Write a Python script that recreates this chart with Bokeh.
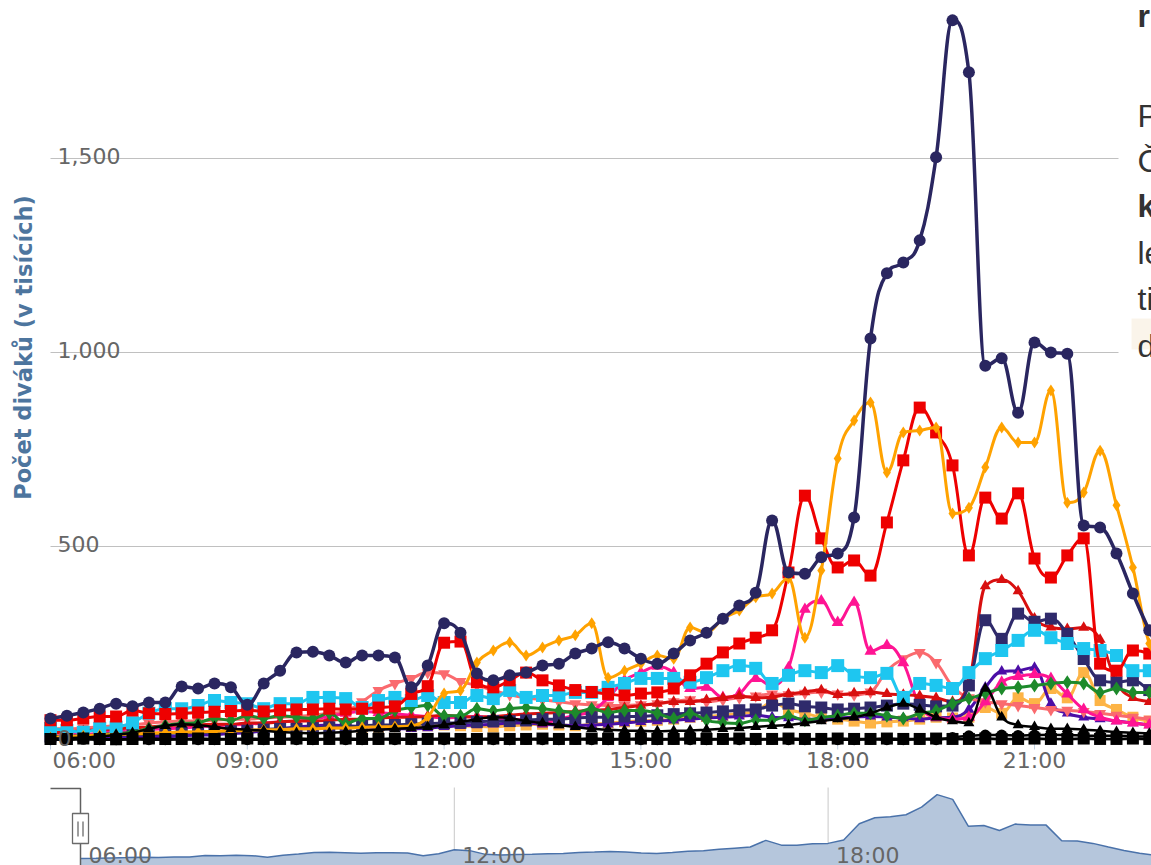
from bokeh.plotting import figure
from bokeh.layouts import column
from bokeh.models import Range1d, Label, BoxAnnotation, ColumnDataSource
from bokeh.core.properties import value
from bokeh.embed import file_html
from bokeh.resources import INLINE

# ---------------- data ----------------
TIMES = ["06:00", "06:15", "06:30", "06:45", "07:00", "07:15", "07:30", "07:45",
         "08:00", "08:15", "08:30", "08:45", "09:00", "09:15", "09:30", "09:45",
         "10:00", "10:15", "10:30", "10:45", "11:00", "11:15", "11:30", "11:45",
         "12:00", "12:15", "12:30", "12:45", "13:00", "13:15", "13:30", "13:45",
         "14:00", "14:15", "14:30", "14:45", "15:00", "15:15", "15:30", "15:45",
         "16:00", "16:15", "16:30", "16:45", "17:00", "17:15", "17:30", "17:45",
         "18:00", "18:15", "18:30", "18:45", "19:00", "19:15", "19:30", "19:45",
         "20:00", "20:15", "20:30", "20:45", "21:00", "21:15", "21:30", "21:45",
         "22:00", "22:15", "22:30", "22:45", "23:00", "23:15"]

NAVY = [57, 64, 72, 82, 95, 88, 98, 98, 139, 134,
        147, 137, 92, 147, 180, 227, 229, 219, 201, 219,
        219, 214, 137, 193, 302, 278, 173, 155, 168, 175,
        193, 198, 224, 237, 253, 237, 211, 198, 224, 258,
        278, 314, 348, 381, 567, 433, 430, 472, 482, 575,
        1036, 1204, 1232, 1289, 1503, 1856, 1722, 966, 985, 845,
        1026, 1000, 997, 554, 549, 482, 379, 284, 206, 150]
ORANGE = [8, 10, 12, 14, 15, 17, 18, 20, 22, 22,
          24, 25, 26, 28, 28, 30, 30, 32, 32, 34,
          35, 36, 38, 60, 121, 129, 201, 232, 253, 219,
          240, 258, 271, 302, 162, 180, 198, 219, 211, 291,
          278, 314, 335, 369, 379, 418, 265, 438, 727, 825,
          871, 691, 794, 799, 807, 585, 600, 704, 807, 768,
          768, 902, 613, 639, 747, 606, 446, 250, 200, 170]
RED = [52, 52, 57, 62, 62, 77, 70, 68, 70, 72,
       74, 76, 78, 75, 78, 80, 80, 82, 80, 82,
       85, 88, 120, 140, 252, 255, 150, 137, 155, 175,
       155, 142, 130, 125, 120, 116, 121, 124, 134, 168,
       198, 227, 250, 265, 284, 433, 631, 521, 446, 464,
       425, 562, 722, 858, 794, 709, 477, 626, 572, 637,
       469, 420, 477, 521, 198, 180, 232, 224, 200, 180]
CYAN = [31, 26, 21, 31, 34, 46, 70, 82, 82, 90,
        103, 98, 95, 82, 95, 95, 111, 111, 108, 85,
        103, 111, 103, 116, 98, 98, 116, 108, 129, 111,
        116, 116, 124, 124, 137, 147, 160, 160, 160, 150,
        162, 180, 193, 186, 147, 168, 180, 175, 193, 168,
        162, 173, 111, 147, 142, 134, 175, 211, 232, 258,
        284, 265, 250, 237, 232, 219, 180, 180, 170, 165]
PINK = [20, 18, 15, 20, 25, 22, 28, 30, 32, 35,
        38, 40, 42, 45, 48, 50, 55, 62, 70, 75,
        72, 68, 65, 62, 58, 60, 62, 58, 55, 52,
        45, 55, 65, 75, 110, 155, 175, 191, 175, 134,
        137, 111, 121, 160, 142, 188, 338, 360, 304, 356,
        230, 245, 200, 90, 60, 55, 60, 100, 150, 165,
        170, 160, 120, 80, 60, 50, 45, 40, 35, 30]
DARKRED = [20, 22, 25, 28, 30, 32, 35, 38, 40, 40,
           42, 42, 45, 45, 48, 50, 50, 52, 55, 55,
           58, 60, 60, 62, 65, 62, 60, 62, 65, 68,
           70, 72, 75, 78, 80, 85, 90, 95, 100, 100,
           105, 110, 115, 110, 112, 120, 125, 130, 118, 122,
           125, 120, 118, 115, 110, 100, 150, 398, 414, 385,
           315, 292, 288, 291, 260, 150, 110, 100, 90, 80]
NAVY_SQ = [10, 10, 12, 12, 14, 15, 16, 18, 20, 20,
           22, 24, 25, 28, 30, 30, 32, 34, 35, 38,
           40, 40, 42, 44, 45, 46, 48, 50, 50, 52,
           55, 55, 58, 60, 60, 62, 62, 65, 68, 70,
           72, 75, 78, 80, 90, 95, 88, 85, 80, 82,
           85, 90, 95, 92, 88, 90, 142, 310, 262, 327,
           306, 314, 275, 210, 155, 150, 155, 130, 110, 100]
SALMON = [30, 30, 32, 35, 38, 40, 45, 48, 50, 50,
          52, 55, 55, 58, 60, 62, 65, 70, 75, 100,
          129, 147, 160, 175, 172, 152, 142, 129, 118, 110,
          105, 100, 95, 92, 90, 90, 92, 95, 100, 105,
          100, 105, 110, 115, 120, 118, 122, 125, 120, 118,
          125, 180, 211, 227, 201, 140, 110, 100, 95, 90,
          85, 80, 78, 75, 70, 65, 60, 55, 50, 45]
GREEN = [8, 10, 12, 15, 18, 21, 31, 39, 44, 46,
         57, 52, 64, 57, 64, 60, 57, 70, 44, 57,
         57, 77, 85, 90, 64, 64, 82, 77, 82, 85,
         82, 77, 72, 82, 72, 77, 77, 70, 57, 70,
         52, 46, 44, 52, 52, 64, 52, 59, 64, 70,
         70, 64, 57, 70, 77, 95, 108, 121, 134, 137,
         142, 147, 150, 147, 124, 134, 124, 124, 120, 115]
INDIGO = [5, 5, 6, 6, 8, 8, 10, 10, 12, 14,
          15, 18, 20, 25, 30, 35, 38, 40, 38, 35,
          32, 30, 30, 32, 35, 38, 40, 42, 45, 45,
          42, 40, 38, 40, 42, 45, 48, 50, 52, 55,
          58, 60, 62, 65, 60, 58, 55, 55, 58, 60,
          62, 60, 58, 55, 58, 60, 80, 137, 178, 180,
          188, 95, 70, 60, 55, 50, 45, 40, 35, 30]
LIGHT_ORANGE = [12, 12, 14, 15, 16, 18, 20, 20, 22, 22,
                24, 25, 26, 28, 28, 30, 30, 32, 32, 34,
                35, 36, 36, 38, 40, 38, 36, 35, 38, 40,
                42, 40, 38, 42, 45, 48, 50, 52, 55, 60,
                62, 65, 70, 75, 98, 80, 70, 60, 55, 50,
                45, 48, 50, 55, 60, 58, 60, 85, 70, 110,
                95, 134, 110, 175, 103, 80, 60, 50, 45, 40]
BLACK_TRI = [5, 6, 8, 10, 15, 20, 30, 38, 42, 40,
             35, 30, 28, 25, 22, 20, 18, 20, 22, 25,
             28, 30, 32, 35, 40, 48, 55, 60, 58, 50,
             45, 40, 35, 30, 28, 26, 25, 24, 25, 26,
             28, 30, 32, 35, 38, 40, 45, 50, 55, 60,
             70, 85, 95, 80, 60, 50, 45, 134, 60, 40,
             35, 30, 30, 28, 25, 22, 20, 18, 15, 12]
BLACK_CIRC = [2, 2, 3, 2, 2, 3, 2, 2, 3, 2,
              2, 3, 2, 2, 3, 2, 2, 3, 2, 2,
              3, 2, 2, 3, 2, 2, 3, 2, 2, 3,
              2, 2, 3, 2, 2, 3, 2, 2, 3, 2,
              2, 3, 2, 2, 3, 2, 2, 3, 2, 2,
              3, 2, 2, 3, 2, 8, 12, 14, 14, 13,
              14, 15, 14, 13, 12, 12, 11, 10, 10, 9]
BLACK_SQ = [4, 4, 5, 4, 3, 4, 5, 4, 4, 5,
            4, 4, 5, 4, 4, 5, 4, 4, 5, 4,
            4, 5, 4, 4, 5, 4, 4, 5, 4, 4,
            5, 4, 4, 5, 4, 4, 5, 4, 4, 5,
            4, 4, 5, 4, 4, 5, 4, 4, 5, 4,
            4, 5, 4, 4, 5, 4, 4, 5, 4, 4,
            5, 4, 4, 5, 4, 4, 5, 4, 4, 5]

Y_TICKS = [0, 500, 1000, 1500]
Y_TICK_LABELS = ["0", "500", "1,000", "1,500"]
X_TICKS = [9, 12, 15, 18, 21]
X_TICK_LABELS = ["09:00", "12:00", "15:00", "18:00", "21:00"]
FIRST_X_TICK = 6
FIRST_X_LABEL = "06:00"
NAV_TICKS = [6, 12, 18]
NAV_TICK_LABELS = ["06:00", "12:00", "18:00"]
Y_TITLE = "Počet diváků (v tisících)"
SIDE_TEXT = [("r", "bold"), ("P", "normal"), ("Č", "normal"), ("k", "bold"),
             ("le", "normal"), ("ti", "normal"), ("d", "normal")]

hours = [int(s[:2]) + int(s[3:]) / 60.0 for s in TIMES]
for arr in (NAVY, ORANGE, RED, CYAN, PINK, DARKRED, NAVY_SQ, SALMON, GREEN, INDIGO,
            LIGHT_ORANGE, BLACK_TRI, BLACK_CIRC, BLACK_SQ):
    assert len(arr) == len(hours), len(arr)

# ---------------- layout helpers (page px -> data units) ----------------
W, H_MAIN, H_NAV = 1151, 785, 80
PX_PER_H = 65.6      # main chart: pixels per hour
X06 = 50.0           # page x of 06:00 in main chart
PX_PER_K = 0.388     # main chart: pixels per thousand viewers
Y0 = 740.0           # page y of the zero line


def mx(px):
    return 6 + (px - X06) / PX_PER_H


def my(py):
    return (Y0 - py) / PX_PER_K


NPX_PER_H = 62.3     # navigator: pixels per hour
NX06 = 80.0          # page x of 06:00 in navigator
NAV_TOP = 785.0
NAV_BASE = 860.0     # page y of navigator zero
NAV_PX_PER_K = 0.0355


def nx(px):
    return 6 + (px - NX06) / NPX_PER_H


def ny(py):
    return (NAV_BASE - py) / NAV_PX_PER_K


def spline_source(xs, ys):
    n = len(xs)
    xs = [float(v) for v in xs]
    ys = [float(v) for v in ys]
    lcx, lcy, rcx, rcy = list(xs), list(ys), list(xs), list(ys)
    s, d = 1.5, 2.5
    for i in range(1, n - 1):
        x, y = xs[i], ys[i]
        lx, ly = xs[i - 1], ys[i - 1]
        nxp, nyp = xs[i + 1], ys[i + 1]
        a = (s * x + lx) / d
        b = (s * y + ly) / d
        c = (s * x + nxp) / d
        e = (s * y + nyp) / d
        corr = ((e - b) * (c - x)) / (c - a) + y - e
        b += corr
        e += corr
        if b > ly and b > y:
            b = max(ly, y)
            e = 2 * y - b
        elif b < ly and b < y:
            b = min(ly, y)
            e = 2 * y - b
        if e > nyp and e > y:
            e = max(nyp, y)
            b = 2 * y - e
        elif e < nyp and e < y:
            e = min(nyp, y)
            b = 2 * y - e
        lcx[i], lcy[i], rcx[i], rcy[i] = a, b, c, e
    return ColumnDataSource(dict(
        x0=xs[:-1], y0=ys[:-1], x1=xs[1:], y1=ys[1:],
        cx0=rcx[:-1], cy0=rcy[:-1], cx1=lcx[1:], cy1=lcy[1:]))


FONT = "DejaVu Sans"
LABEL_COLOR = "#666666"
TICK_FONT_SIZE = "22px"

# ---------------- main chart ----------------
p = figure(width=W, height=H_MAIN, output_backend="svg", toolbar_location=None,
           x_range=Range1d(mx(0), mx(W)), y_range=Range1d(my(H_MAIN), my(0)),
           x_axis_location=None, y_axis_location=None,
           min_border_left=0, min_border_right=0, min_border_top=0, min_border_bottom=0)
p.outline_line_color = None
p.background_fill_color = "white"
p.border_fill_color = "white"
p.grid.visible = False

# faint highlight behind the last article line on the right
p.add_layout(BoxAnnotation(left=mx(1131), bottom=my(349), top=my(318), fill_color="#faf4ea",
                           fill_alpha=1.0, line_color=None, level="underlay"))

# horizontal grid lines (the upper two are hidden by the article panel at the right)
grid_end = [mx(W), mx(W), mx(1118), mx(1118)]
p.segment(x0=[mx(50)] * len(Y_TICKS), y0=Y_TICKS, x1=grid_end, y1=Y_TICKS,
          line_color="#C0C0C0", line_width=1)

# x-axis tick marks
tick_x = [FIRST_X_TICK] + X_TICKS
p.segment(x0=tick_x, y0=[my(741)] * len(tick_x), x1=tick_x, y1=[my(749)] * len(tick_x),
          line_color="#C0D0E0", line_width=1)

# series: (values, color, marker, size, line width) in drawing order
SERIES = [
    (LIGHT_ORANGE, "#fdb446", "square", 11, 3),
    (INDIGO, "#4b0ea6", "triangle", 11, 3),
    (SALMON, "#fa6a6e", "inverted_triangle", 12, 3),
    (PINK, "#ff1493", "triangle", 12, 3),
    (DARKRED, "#d80f0f", "triangle", 11, 3),
    (NAVY_SQ, "#2f2a6b", "square", 12, 3),
    (GREEN, "#1d8a2b", "diamond", 14, 3),
    (CYAN, "#1ec6f0", "square", 13, 3),
    (RED, "#ee0000", "square", 12, 3),
    (ORANGE, "#ffa200", "diamond", 12, 3),
    (BLACK_TRI, "#000000", "triangle", 11, 2.5),
    (BLACK_CIRC, "#000000", "circle", 11, 2.5),
    (BLACK_SQ, "#000000", "square", 12, 2.5),
    (NAVY, "#2a2660", "circle", 12, 3.5),
]
for vals, color, marker, size, lw in SERIES:
    p.bezier(x0="x0", y0="y0", x1="x1", y1="y1", cx0="cx0", cy0="cy0", cx1="cx1", cy1="cy1",
             source=spline_source(hours, vals), line_color=color, line_width=lw, line_cap="round")
    p.scatter(hours, vals, marker=marker, size=size, fill_color=color, line_color=None)

# y tick labels (inside the plot, above the grid lines)
p.text(x=[mx(57)] * len(Y_TICKS), y=Y_TICKS, text=Y_TICK_LABELS, text_font=value(FONT),
       text_font_size=TICK_FONT_SIZE, text_color=LABEL_COLOR, text_align="left",
       text_baseline="alphabetic", y_offset=-3)

# x tick labels
p.text(x=X_TICKS, y=[my(760)] * len(X_TICKS), text=X_TICK_LABELS, text_font=value(FONT),
       text_font_size=TICK_FONT_SIZE, text_color=LABEL_COLOR, text_align="center",
       text_baseline="middle")
p.text(x=[FIRST_X_TICK], y=[my(760)], text=[FIRST_X_LABEL], x_offset=2, text_font=value(FONT),
       text_font_size=TICK_FONT_SIZE, text_color=LABEL_COLOR, text_align="left",
       text_baseline="middle")

# y axis title
p.add_layout(Label(x=mx(23), y=my(347), text=Y_TITLE, angle=1.5707963, text_align="center",
                   text_baseline="middle", text_font=FONT, text_font_size="22.5px",
                   text_font_style="bold", text_color="#4d759e"))

# article text at the right edge
SIDE_BASELINES = [15, 115, 160, 205, 252, 298, 345]
for (txt, style), base in zip(SIDE_TEXT, SIDE_BASELINES):
    p.add_layout(Label(x=mx(1137), y=my(base), text=txt, text_align="left",
                       text_baseline="alphabetic", text_font="Liberation Sans",
                       text_font_size="32px", text_font_style=style, text_color="#333333"))

# ---------------- navigator ----------------
nav = figure(width=W, height=H_NAV, output_backend="svg", toolbar_location=None,
             x_range=Range1d(nx(0), nx(W)), y_range=Range1d(ny(NAV_TOP + H_NAV), ny(NAV_TOP)),
             x_axis_location=None, y_axis_location=None,
             min_border_left=0, min_border_right=0, min_border_top=0, min_border_bottom=0)
nav.outline_line_color = None
nav.background_fill_color = "white"
nav.border_fill_color = "white"
nav.grid.visible = False

nav_bottom = ny(NAV_TOP + H_NAV)
nav.segment(x0=NAV_TICKS[1:], y0=[ny(787)] * 2, x1=NAV_TICKS[1:], y1=[nav_bottom] * 2,
            line_color="#C8C8C8", line_width=1)

nav.varea(x=hours, y1=[nav_bottom] * len(hours), y2=NAVY, fill_color="#b5c6dc", fill_alpha=1.0)
nav.line(hours, NAVY, line_color="#4a72aa", line_width=1.5)

nav.text(x=NAV_TICKS, y=[ny(855)] * len(NAV_TICKS), text=NAV_TICK_LABELS, x_offset=8,
         text_font=value(FONT), text_font_size=TICK_FONT_SIZE, text_color=LABEL_COLOR,
         text_align="left", text_baseline="middle")

# navigator outline and left handle
nav.line(x=[nx(50), hours[0], hours[0]], y=[ny(788), ny(788), nav_bottom], line_color="#606060",
         line_width=1.5)
nav.rect(x=[hours[0]], y=[ny(828)], width=16, height=30, width_units="screen",
         height_units="screen", fill_color="white", line_color="#6a6a6a", line_width=1.3)
nav.segment(x0=[nx(77.5), nx(82.5)], y0=[ny(821)] * 2, x1=[nx(77.5), nx(82.5)], y1=[ny(836)] * 2,
            line_color="#6a6a6a", line_width=1.3)

layout = column(p, nav, spacing=0)
open("out.html", "w").write(file_html(layout, INLINE))
